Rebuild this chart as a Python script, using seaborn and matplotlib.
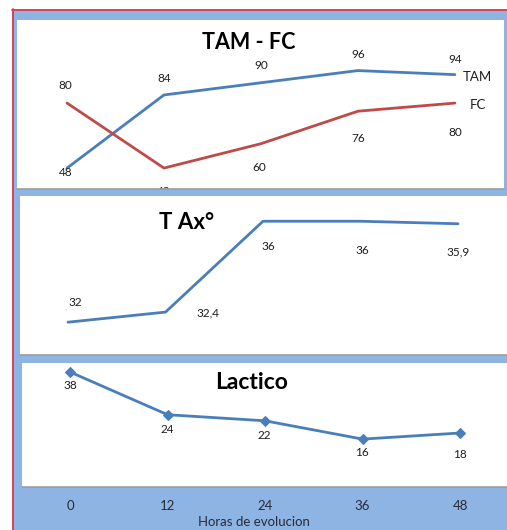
import matplotlib
matplotlib.use("Agg")
import matplotlib.pyplot as plt
import seaborn as sns
from matplotlib.patches import Rectangle
from matplotlib.lines import Line2D

# ---- data -------------------------------------------------------------
hours = [0, 12, 24, 36, 48]
tam = [48, 84, 90, 96, 94]
fc = [80, 48, 60, 76, 80]
tax = [32, 32.4, 36, 36, 35.9]
tax_labels = ["32", "32,4", "36", "36", "35,9"]
lactico = [38, 24, 22, 16, 18]

# ---- style ------------------------------------------------------------
W, H = 507, 530
BLUE = "#4A7EBB"
RED = "#BE4B48"
BG = "#8DB4E2"
FRAME = "#DE3A4C"
EDGE = "#9C9C9C"
TXT = "#1E1E1E"

# label offsets in pixels (dx, dy) relative to each point
tam_off = [(-1, -4), (0, 16), (0, 17), (0, 16), (0, 15)]
fc_off = [(-2, 18), (0, -23), (-2, -24), (0, -27), (0, -29)]
tax_off = [(7, 20), (42, -1), (5, -25), (2, -29), (0, -28)]
lac_off = [(0, -14), (0, -15), (-1, -15), (-1, -13), (0, -21)]

sns.set_theme(style="white")
plt.rcParams["font.family"] = ["Lato", "DejaVu Sans"]

fig = plt.figure(figsize=(W / 100, H / 100), dpi=100)
fig.patch.set_facecolor("white")


def px_rect(x0, y0, x1, y1):
    return [x0 / W, 1 - y1 / H, (x1 - x0) / W, (y1 - y0) / H]


def fx(x):
    return x / W


def fy(y):
    return 1 - y / H


# blue backdrop with red frame on top and left
fig.patches.append(Rectangle((fx(12), 0), 1 - fx(12), fy(9), transform=fig.transFigure,
                             facecolor=BG, edgecolor="none", zorder=-5))
fig.lines.append(Line2D([fx(12), 1], [fy(9.5), fy(9.5)], transform=fig.transFigure,
                        color=FRAME, lw=1.3, zorder=3))
fig.lines.append(Line2D([fx(12.5), fx(12.5)], [0, fy(9)], transform=fig.transFigure,
                        color=FRAME, lw=1.3, zorder=3))

panels = [(17, 20, 504, 189), (20, 196, 507, 355), (22, 363, 507, 487)]
axes = []
for (x0, y0, x1, y1) in panels:
    # white panel card with a grey lower edge
    fig.patches.append(Rectangle((fx(x0), fy(y1)), fx(x1) - fx(x0), fy(y0) - fy(y1),
                                 transform=fig.transFigure, facecolor="white",
                                 edgecolor="none", zorder=-4))
    fig.lines.append(Line2D([fx(x0), fx(x1)], [fy(y1), fy(y1)], transform=fig.transFigure,
                            color=EDGE, lw=1.2, zorder=3))
    ax = fig.add_axes(px_rect(x0, y0, x1, y1))
    ax.set_facecolor("none")
    for s in ax.spines.values():
        s.set_visible(False)
    axes.append(ax)
ax1, ax2, ax3 = axes


def label_points(ax, xs, ys, texts, offs):
    for x, y, t, (dx, dy) in zip(xs, ys, texts, offs):
        ax.annotate(t, (x, y), xytext=(dx, dy), textcoords="offset pixels",
                    ha="center", va="center", fontsize=8.5, color=TXT, clip_on=True)


# ---- panel 1: TAM - FC ------------------------------------------------
sns.lineplot(x=hours, y=tam, ax=ax1, color=BLUE, lw=2.0)
sns.lineplot(x=hours, y=fc, ax=ax1, color=RED, lw=2.0)
ax1.set_xlim(-6.19, 54.08)
ax1.set_ylim(37.7, 120.9)
label_points(ax1, hours, tam, [str(v) for v in tam], tam_off)
label_points(ax1, hours, fc, [str(v) for v in fc], fc_off)
ax1.annotate("TAM", (hours[-1], tam[-1]), xytext=(8, -2), textcoords="offset pixels",
             ha="left", va="center", fontsize=9.5, color=TXT)
ax1.annotate("FC", (hours[-1], fc[-1]), xytext=(15, -2), textcoords="offset pixels",
             ha="left", va="center", fontsize=9.5, color=TXT)
ax1.text(0.476, 0.864, "TAM - FC", transform=ax1.transAxes, ha="center", va="center",
         fontsize=15.5, fontweight="bold", color="black")

# ---- panel 2: T Ax ----------------------------------------------------
sns.lineplot(x=hours, y=tax, ax=ax2, color=BLUE, lw=2.0)
ax2.set_xlim(-5.91, 54.03)
ax2.set_ylim(30.7, 37.0)
label_points(ax2, hours, tax, tax_labels, tax_off)
ax2.text(0.341, 0.836, "T Ax°", transform=ax2.transAxes, ha="center", va="center",
         fontsize=16, fontweight="bold", color="black")

# ---- panel 3: Lactico -------------------------------------------------
sns.lineplot(x=hours, y=lactico, ax=ax3, color=BLUE, lw=2.0, marker="D",
             markersize=5.5, markeredgecolor=BLUE, markerfacecolor=BLUE)
ax3.set_xlim(-5.91, 53.78)
ax3.set_ylim(0.3, 40.95)
label_points(ax3, hours, lactico, [str(v) for v in lactico], lac_off)
ax3.text(0.474, 0.839, "Lactico", transform=ax3.transAxes, ha="center", va="center",
         fontsize=16.5, fontweight="bold", color="black")

for ax in axes:
    ax.set_yticks([])
    ax.set_ylabel("")
ax1.set_xticks([])
ax2.set_xticks([])
ax1.set_xlabel("")
ax2.set_xlabel("")

ax3.set_xticks(hours)
ax3.set_xticklabels([str(h) for h in hours], fontsize=9.5, color="#2A2A3A")
ax3.tick_params(axis="x", length=0, pad=9.5)
ax3.set_xlabel("Horas de evolucion", fontsize=9.5, color="#2A2A3A")
ax3.xaxis.label.set_va("center")
ax3.xaxis.set_label_coords((254 - 22) / 485, -(522 - 487) / 124)

fig.savefig("out.png", dpi=100, facecolor="white")
